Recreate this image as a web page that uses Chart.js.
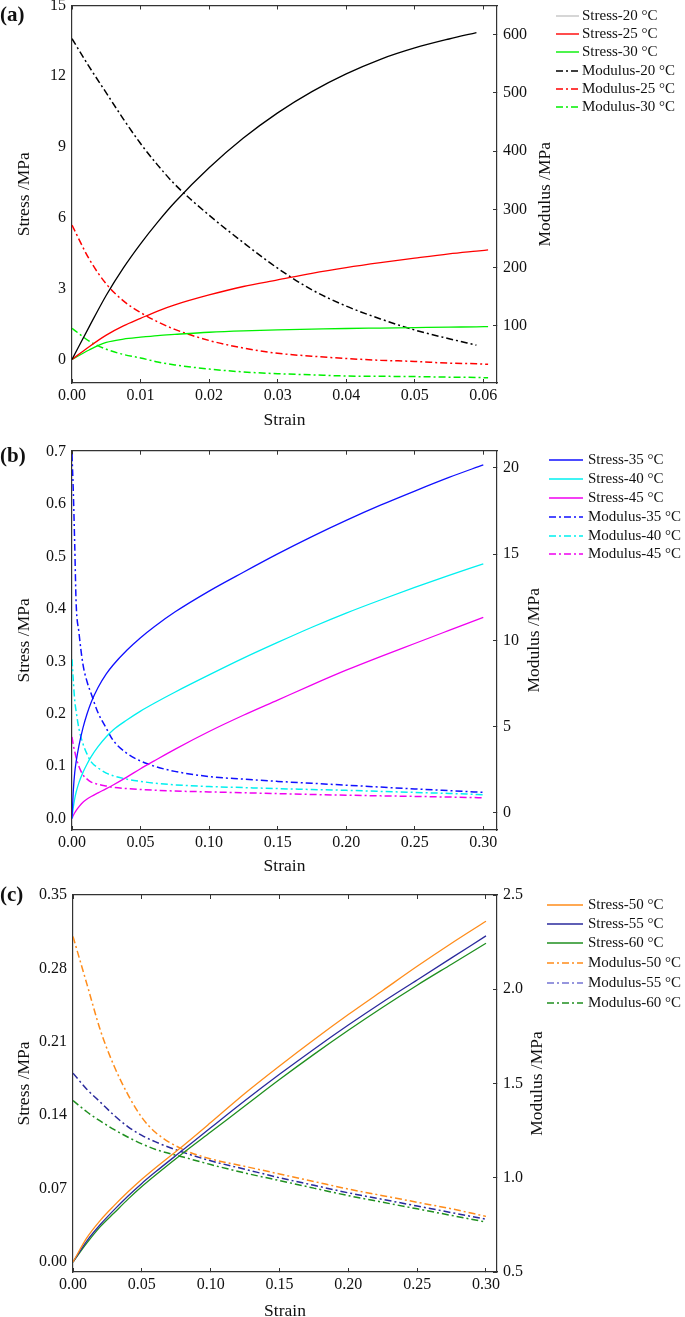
<!DOCTYPE html>
<html>
<head>
<meta charset="utf-8">
<script src="https://cdn.jsdelivr.net/npm/chart.js@4.4.0/dist/chart.umd.min.js"></script>
<style>
  html, body { margin: 0; padding: 0; background: #fff; overflow: hidden; }
  #page { position: relative; width: 685px; height: 1317px; overflow: hidden; }
  canvas { position: absolute; left: 0; }
</style>
</head>
<body>
<div id="page">
  <canvas id="chartA" width="685" height="440" style="top:0px"></canvas>
  <canvas id="chartB" width="685" height="445" style="top:440px"></canvas>
  <canvas id="chartC" width="685" height="445" style="top:880px"></canvas>
</div>
<script>
// === Panel (a): 20-30 °C ===
const strainA   = [0, 0.0025, 0.005, 0.0075, 0.01, 0.0125, 0.015, 0.02, 0.025, 0.03, 0.035, 0.04, 0.045, 0.05, 0.055, 0.059, 0.0607];
const stressA20 = [0, 1.38, 2.72, 3.88, 4.9, 5.82, 6.66, 8.12, 9.38, 10.45, 11.35, 12.1, 12.72, 13.2, 13.58, 13.85, null];
const stressA25 = [0, 0.54, 1.03, 1.42, 1.74, 2.05, 2.31, 2.73, 3.09, 3.37, 3.65, 3.89, 4.10, 4.29, 4.47, 4.59, 4.64];
const stressA30 = [0, 0.40, 0.72, 0.86, 0.94, 1.01, 1.06, 1.15, 1.21, 1.25, 1.28, 1.31, 1.33, 1.35, 1.37, 1.38, 1.39];
const modA20    = [593, 545, 500, 455, 413, 376, 343, 290, 243, 199, 162, 134, 112, 93, 78, 67, null];
const modA25    = [273, 215, 172, 143, 123, 107, 94, 75, 62, 53, 48, 44, 41, 39, 36, 35, 34];
const modA30    = [96, 74, 60, 51, 45, 38, 33, 26, 21, 18, 16, 14, 13.5, 13, 12, 11.5, 11];
const ticksAX   = [0, 0.01, 0.02, 0.03, 0.04, 0.05, 0.06];
const ticksAY   = [0, 3, 6, 9, 12, 15];
const ticksAY1  = [100, 200, 300, 400, 500, 600];

// === Panel (b): 35-45 °C ===
const strainB   = [0, 0.001, 0.002, 0.003, 0.005, 0.008, 0.011, 0.014, 0.019, 0.025, 0.03, 0.04, 0.05, 0.06, 0.075, 0.1, 0.125, 0.15, 0.175, 0.2, 0.225, 0.25, 0.275, 0.3];
const stressB35 = [0, 0.055, 0.088, 0.108, 0.138, 0.173, 0.200, 0.222, 0.250, 0.276, 0.293, 0.321, 0.345, 0.366, 0.394, 0.434, 0.470, 0.505, 0.538, 0.569, 0.598, 0.625, 0.651, 0.675];
const stressB40 = [0, 0.022, 0.038, 0.050, 0.068, 0.088, 0.104, 0.118, 0.137, 0.156, 0.169, 0.188, 0.205, 0.220, 0.241, 0.274, 0.306, 0.336, 0.365, 0.392, 0.417, 0.441, 0.464, 0.486];
const stressB45 = [0, 0.006, 0.011, 0.015, 0.022, 0.031, 0.037, 0.042, 0.049, 0.057, 0.064, 0.079, 0.095, 0.110, 0.132, 0.166, 0.197, 0.226, 0.255, 0.283, 0.309, 0.334, 0.359, 0.384];
const modB35    = [20.8, 18.5, 15.5, 12.2, 10.5, 8.6, 7.6, 6.9, 5.8, 4.9, 4.2, 3.45, 3.0, 2.7, 2.4, 2.1, 1.95, 1.82, 1.71, 1.6, 1.49, 1.38, 1.28, 1.18];
const modB40    = [8.9, 7.6, 6.5, 5.9, 4.9, 4.0, 3.4, 2.95, 2.6, 2.3, 2.15, 1.95, 1.82, 1.72, 1.62, 1.52, 1.46, 1.40, 1.35, 1.30, 1.24, 1.18, 1.12, 1.05];
const modB45    = [4.4, 3.9, 3.55, 3.2, 2.7, 2.2, 1.95, 1.78, 1.65, 1.55, 1.48, 1.40, 1.35, 1.31, 1.26, 1.21, 1.16, 1.11, 1.06, 1.02, 0.98, 0.95, 0.91, 0.87];
const ticksBX   = [0, 0.05, 0.10, 0.15, 0.20, 0.25, 0.30];
const ticksBY   = [0, 0.1, 0.2, 0.3, 0.4, 0.5, 0.6, 0.7];
const ticksBY1  = [0, 5, 10, 15, 20];

// === Panel (c): 50-60 °C ===
const strainC   = [0, 0.01, 0.02, 0.03, 0.04, 0.05, 0.06, 0.08, 0.1, 0.125, 0.15, 0.175, 0.2, 0.225, 0.25, 0.275, 0.3];
const stressC50 = [0, 0.023, 0.040, 0.054, 0.067, 0.079, 0.090, 0.111, 0.133, 0.161, 0.187, 0.212, 0.236, 0.259, 0.282, 0.304, 0.325];
const stressC55 = [0, 0.020, 0.036, 0.050, 0.063, 0.075, 0.086, 0.107, 0.128, 0.154, 0.179, 0.203, 0.226, 0.248, 0.269, 0.290, 0.311];
const stressC60 = [0, 0.018, 0.034, 0.047, 0.060, 0.072, 0.083, 0.104, 0.124, 0.149, 0.174, 0.198, 0.221, 0.243, 0.264, 0.284, 0.304];
const modC50    = [2.28, 2.03, 1.78, 1.59, 1.44, 1.32, 1.24, 1.15, 1.10, 1.06, 1.02, 0.98, 0.94, 0.905, 0.87, 0.835, 0.795];
const modC55    = [1.555, 1.47, 1.40, 1.33, 1.27, 1.225, 1.19, 1.135, 1.09, 1.045, 1.0, 0.96, 0.92, 0.885, 0.85, 0.815, 0.78];
const modC60    = [1.41, 1.35, 1.30, 1.255, 1.215, 1.18, 1.15, 1.11, 1.07, 1.025, 0.985, 0.945, 0.905, 0.87, 0.835, 0.80, 0.765];
const ticksCX   = [0, 0.05, 0.10, 0.15, 0.20, 0.25, 0.30];
const ticksCY   = [0, 0.07, 0.14, 0.21, 0.28, 0.35];
const ticksCY1  = [0.5, 1.0, 1.5, 2.0, 2.5];

const FONT = "'Liberation Serif', 'Times New Roman', serif";
const INK = "#111";
const DASH_DOT = [7, 3, 2, 3];

Chart.defaults.font.family = FONT;
Chart.defaults.color = INK;

// eine Linie als Datensatz
function series(label, xs, ys, color, axis, dashed, legendColor) {
  const data = [];
  xs.forEach((x, i) => { if (ys[i] !== null) data.push({ x: x, y: ys[i] }); });
  return {
    label, data,
    borderColor: color,
    backgroundColor: color,
    borderWidth: dashed ? 1.5 : 1.3,
    borderDash: dashed ? DASH_DOT : [],
    legendColor: legendColor || color,
    yAxisID: axis,
    pointRadius: 0,
    cubicInterpolationMode: "monotone",
    fill: false
  };
}

// Panel-Buchstabe, rechter Achsentitel und Legende
const decorPlugin = {
  id: "decor",
  afterDraw(chart, args, opts) {
    const ctx = chart.ctx;
    const area = chart.chartArea;
    ctx.save();
    ctx.fillStyle = INK;
    ctx.font = "bold 21px " + FONT;
    ctx.textAlign = "left";
    ctx.textBaseline = "middle";
    ctx.fillText(opts.letter, 0, opts.letterY);

    // Legende
    ctx.font = "15px " + FONT;
    chart.data.datasets.forEach((ds, i) => {
      const y = opts.legendY[i];
      ctx.save();
      ctx.strokeStyle = ds.legendColor;
      ctx.lineWidth = 1.4;
      ctx.setLineDash(ds.borderDash || []);
      ctx.beginPath();
      ctx.moveTo(opts.legendX1, y);
      ctx.lineTo(opts.legendX2, y);
      ctx.stroke();
      ctx.restore();
      ctx.fillText(ds.label, opts.legendTextX, y);
    });

    // rechter Achsentitel (von unten nach oben)
    ctx.translate(opts.rightTitleX, (area.top + area.bottom) / 2);
    ctx.rotate(-Math.PI / 2);
    ctx.font = "17.5px " + FONT;
    ctx.textAlign = "center";
    ctx.fillText(opts.rightTitle, 0, 0);
    ctx.restore();
  }
};

function fixedTicks(values) {
  return scale => { scale.ticks = values.map(v => ({ value: v })); };
}

function makePanel(id, geo, datasets, sc, decor) {
  const W = 685, H = geo.height, RIGHT_W = 50, LEFT_PAD = 13.5;
  const top = geo.area.t - geo.top;
  const bottom = geo.area.b - geo.top;
  const xH = geo.titleY - geo.top + 10.5 - bottom;
  const frame = { display: true, color: "#333", width: 1.2 };
  const zeroPad = s => { s.paddingTop = 0; s.paddingBottom = 0; s.paddingLeft = 0; s.paddingRight = 0; };

  // Legende in lokale Koordinaten
  const d = Object.assign({}, decor, {
    letterY: decor.letterY - geo.top,
    legendY: decor.legendY.map(v => v - geo.top)
  });

  return new Chart(document.getElementById(id), {
    type: "line",
    data: { datasets },
    plugins: [decorPlugin],
    options: {
      responsive: false,
      animation: false,
      devicePixelRatio: 1,
      layout: {
        autoPadding: false,
        padding: { left: LEFT_PAD, top: top, right: W - geo.area.r - RIGHT_W, bottom: H - bottom - xH }
      },
      plugins: {
        legend: { display: false },
        tooltip: { enabled: false },
        decor: d
      },
      scales: {
        x: {
          type: "linear", position: "bottom", min: sc.xMin, max: sc.xMax,
          afterBuildTicks: fixedTicks(sc.xTicks),
          afterFit: s => { s.height = xH; zeroPad(s); },
          border: frame,
          grid: { drawOnChartArea: false, drawTicks: true, tickLength: -4, color: "#333" },
          ticks: { font: { size: 16 }, padding: 7, maxRotation: 0, autoSkip: false,
                   callback: v => v.toFixed(2) },
          title: { display: true, text: "Strain", font: { size: 17.5 }, padding: { top: 0, bottom: 0 } }
        },
        x2: {
          type: "linear", position: "top", min: sc.xMin, max: sc.xMax,
          afterBuildTicks: fixedTicks(sc.xTicks),
          afterFit: s => { s.height = 0; zeroPad(s); },
          border: frame,
          grid: { drawOnChartArea: false, drawTicks: true, tickLength: -4, color: "#333" },
          ticks: { display: false }
        },
        y: {
          type: "linear", position: "left", min: sc.yMin, max: sc.yMax,
          afterBuildTicks: fixedTicks(sc.yTicks),
          afterFit: s => { s.width = geo.area.l - LEFT_PAD; zeroPad(s); },
          border: frame,
          grid: { drawOnChartArea: false, drawTicks: false },
          ticks: { font: { size: 16 }, padding: 6, callback: v => v.toFixed(sc.yDigits) },
          title: { display: true, text: "Stress /MPa", font: { size: 17.5 }, padding: { top: 0, bottom: 0 } }
        },
        y1: {
          type: "linear", position: "right", min: sc.y1Min, max: sc.y1Max,
          afterBuildTicks: fixedTicks(sc.y1Ticks),
          afterFit: s => { s.width = RIGHT_W; zeroPad(s); },
          border: frame,
          grid: { drawOnChartArea: false, drawTicks: true, tickLength: -4, color: "#333" },
          ticks: { font: { size: 16 }, padding: 10, callback: v => v.toFixed(sc.y1Digits) }
        }
      }
    }
  });
}

// (a)
makePanel("chartA",
  { top: 0, height: 440, area: { l: 72, r: 497, t: 5.5, b: 383 }, titleY: 420 },
  [
    series("Stress-20 °C", strainA, stressA20, "#000000", "y", false, "#c4c4c4"),
    series("Stress-25 °C", strainA, stressA25, "#ff0000", "y", false),
    series("Stress-30 °C", strainA, stressA30, "#00f000", "y", false),
    series("Modulus-20 °C", strainA, modA20, "#000000", "y1", true),
    series("Modulus-25 °C", strainA, modA25, "#ff0000", "y1", true),
    series("Modulus-30 °C", strainA, modA30, "#00f000", "y1", true)
  ],
  { xMin: 0, xMax: 0.062, xTicks: ticksAX, yMin: -1, yMax: 15, yTicks: ticksAY, yDigits: 0,
    y1Min: 2, y1Max: 650, y1Ticks: ticksAY1, y1Digits: 0 },
  { letter: "(a)", letterY: 16, rightTitle: "Modulus /MPa", rightTitleX: 545,
    legendX1: 556, legendX2: 579, legendTextX: 582, legendY: [16, 34, 52, 71, 89, 107] }
);

// (b)
makePanel("chartB",
  { top: 440, height: 445, area: { l: 72, r: 497, t: 450.7, b: 830 }, titleY: 866.7 },
  [
    series("Stress-35 °C", strainB, stressB35, "#1010ff", "y", false),
    series("Stress-40 °C", strainB, stressB40, "#00f0f0", "y", false),
    series("Stress-45 °C", strainB, stressB45, "#f000f0", "y", false),
    series("Modulus-35 °C", strainB, modB35, "#1010ff", "y1", true),
    series("Modulus-40 °C", strainB, modB40, "#00f0f0", "y1", true),
    series("Modulus-45 °C", strainB, modB45, "#f000f0", "y1", true)
  ],
  { xMin: 0, xMax: 0.31, xTicks: ticksBX, yMin: -0.022, yMax: 0.702, yTicks: ticksBY, yDigits: 1,
    y1Min: -1, y1Max: 21, y1Ticks: ticksBY1, y1Digits: 0 },
  { letter: "(b)", letterY: 457, rightTitle: "Modulus /MPa", rightTitleX: 534,
    legendX1: 549, legendX2: 583, legendTextX: 588, legendY: [460, 479, 498, 517, 536, 554] }
);

// (c)
makePanel("chartC",
  { top: 880, height: 445, area: { l: 73, r: 497, t: 895, b: 1272 }, titleY: 1311.7 },
  [
    series("Stress-50 °C", strainC, stressC50, "#ff8c1a", "y", false),
    series("Stress-55 °C", strainC, stressC55, "#2a2a9c", "y", false),
    series("Stress-60 °C", strainC, stressC60, "#1f8f1f", "y", false),
    series("Modulus-50 °C", strainC, modC50, "#ff8c1a", "y1", true),
    series("Modulus-55 °C", strainC, modC55, "#2a2a9c", "y1", true, "#7474d4"),
    series("Modulus-60 °C", strainC, modC60, "#1f8f1f", "y1", true)
  ],
  { xMin: 0, xMax: 0.308, xTicks: ticksCX, yMin: -0.0095, yMax: 0.35, yTicks: ticksCY, yDigits: 2,
    y1Min: 0.5, y1Max: 2.5, y1Ticks: ticksCY1, y1Digits: 1 },
  { letter: "(c)", letterY: 896, rightTitle: "Modulus /MPa", rightTitleX: 537,
    legendX1: 547, legendX2: 583, legendTextX: 588, legendY: [905, 924, 943, 963, 983, 1003] }
);
</script>
</body>
</html>
